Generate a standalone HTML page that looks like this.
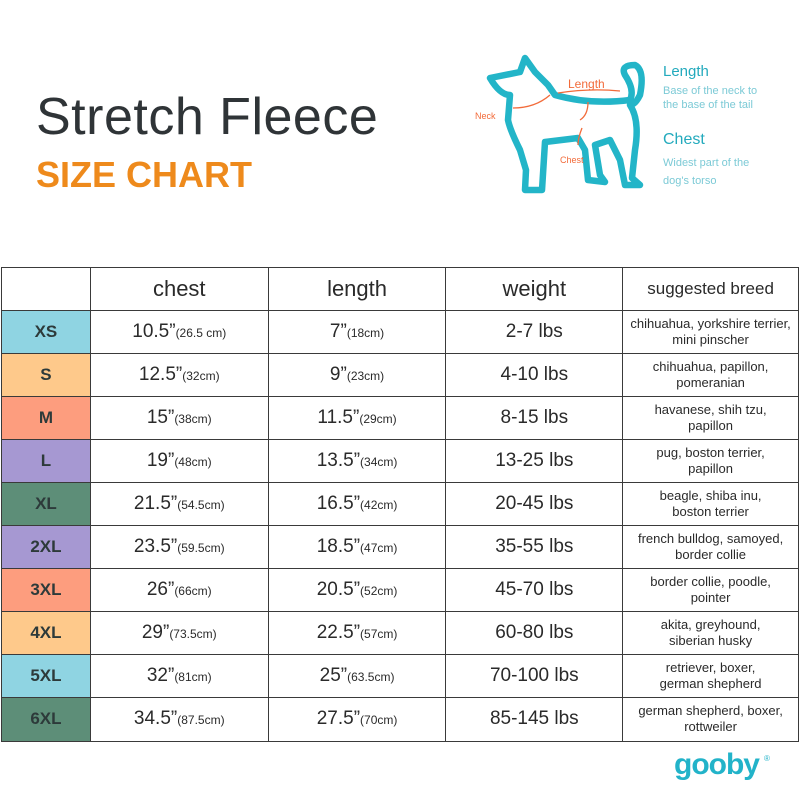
<!DOCTYPE html>
<html><head><style>
body{margin:0;width:800px;height:800px;background:#fff;font-family:"Liberation Sans",sans-serif;position:relative;overflow:hidden}
.t1{position:absolute;left:36px;top:87px;font-size:52px;color:#2f3437;letter-spacing:0.5px}
.t2{position:absolute;left:36px;top:154px;font-size:36px;font-weight:bold;color:#ee8a1c}
table{position:absolute;left:1px;top:267px;border-collapse:collapse;width:798px}
td{border:1.5px solid #3a3a3a;text-align:center;color:#2a2a2a;padding:0;height:42.1px}
tr.h td{font-size:22px;height:41.6px}
td.s{font-size:17px;font-weight:bold;color:#2d3a3a}
td.v{font-size:19px}
td.v small{font-size:12px}
td.b{font-size:13px;line-height:16px}
.lbl{position:absolute;font-size:14px}
</style></head><body>
<div class="t1">Stretch Fleece</div>
<div class="t2">SIZE CHART</div>
<svg style="position:absolute;left:470px;top:50px" width="200" height="160" viewBox="0 0 200 160">
<g fill="none" stroke="#23b5c8" stroke-width="6.5" stroke-linejoin="round" stroke-linecap="round">
<path d="M20 28 L50 22 L55 8 L65 22 L78 35 L85 45 Q120 55 160 50 Q165 40 155 25 Q150 15 165 15 Q175 20 170 45 Q165 55 160 55 Q170 70 165 100 L162 128 L170 135 L155 135 L150 110 L140 90 L125 95 L130 125 L135 132 L118 130 L115 100 L108 88 L75 92 L72 140 L55 140 L56 120 L50 100 Q40 80 38 70 L40 45 Q30 45 20 28 Z"/>
</g>
<g fill="none" stroke="#f26b3a" stroke-width="1.3">
<path d="M43 58 Q65 58 80 45"/><path d="M88 43 Q120 38 150 41"/><path d="M118 52 Q118 65 110 70"/><path d="M112 78 Q108 88 108 95"/>
</g>
<text x="98" y="38" font-size="12" fill="#f26b3a" font-family="Liberation Sans">Length</text>
<text x="5" y="69" font-size="9" fill="#f26b3a" font-family="Liberation Sans">Neck</text>
<text x="90" y="113" font-size="9" fill="#f26b3a" font-family="Liberation Sans">Chest</text>
</svg>
<div class="lbl" style="left:663px;top:63px;color:#23aabd;font-size:15px">Length</div>
<div class="lbl" style="left:663px;top:84px;color:#7ccad6;font-size:11px;line-height:14px">Base of the neck to<br>the base of the tail</div>
<div class="lbl" style="left:663px;top:131px;color:#23aabd;font-size:16px">Chest</div>
<div class="lbl" style="left:663px;top:154px;color:#7ccad6;font-size:11px;line-height:18px">Widest part of the<br>dog's torso</div>
<table>
<colgroup><col style="width:89px"><col style="width:178px"><col style="width:178px"><col style="width:177px"><col style="width:176px"></colgroup>
<tr class="h"><td></td><td>chest</td><td>length</td><td>weight</td><td style="font-size:17px">suggested breed</td></tr>
<tr><td class="s" style="background:#8fd4e2">XS</td><td class="v">10.5”<small>(26.5 cm)</small></td><td class="v">7”<small>(18cm)</small></td><td class="v">2-7 lbs</td><td class="b">chihuahua, yorkshire terrier,<br>mini pinscher</td></tr>
<tr><td class="s" style="background:#fec98b">S</td><td class="v">12.5”<small>(32cm)</small></td><td class="v">9”<small>(23cm)</small></td><td class="v">4-10 lbs</td><td class="b">chihuahua, papillon,<br>pomeranian</td></tr>
<tr><td class="s" style="background:#fd9d7e">M</td><td class="v">15”<small>(38cm)</small></td><td class="v">11.5”<small>(29cm)</small></td><td class="v">8-15 lbs</td><td class="b">havanese, shih tzu,<br>papillon</td></tr>
<tr><td class="s" style="background:#a698d2">L</td><td class="v">19”<small>(48cm)</small></td><td class="v">13.5”<small>(34cm)</small></td><td class="v">13-25 lbs</td><td class="b">pug, boston terrier,<br>papillon</td></tr>
<tr><td class="s" style="background:#5d8e78">XL</td><td class="v">21.5”<small>(54.5cm)</small></td><td class="v">16.5”<small>(42cm)</small></td><td class="v">20-45 lbs</td><td class="b">beagle, shiba inu,<br>boston terrier</td></tr>
<tr><td class="s" style="background:#a698d2">2XL</td><td class="v">23.5”<small>(59.5cm)</small></td><td class="v">18.5”<small>(47cm)</small></td><td class="v">35-55 lbs</td><td class="b">french bulldog, samoyed,<br>border collie</td></tr>
<tr><td class="s" style="background:#fd9d7e">3XL</td><td class="v">26”<small>(66cm)</small></td><td class="v">20.5”<small>(52cm)</small></td><td class="v">45-70 lbs</td><td class="b">border collie, poodle,<br>pointer</td></tr>
<tr><td class="s" style="background:#fec98b">4XL</td><td class="v">29”<small>(73.5cm)</small></td><td class="v">22.5”<small>(57cm)</small></td><td class="v">60-80 lbs</td><td class="b">akita, greyhound,<br>siberian husky</td></tr>
<tr><td class="s" style="background:#8fd4e2">5XL</td><td class="v">32”<small>(81cm)</small></td><td class="v">25”<small>(63.5cm)</small></td><td class="v">70-100 lbs</td><td class="b">retriever, boxer,<br>german shepherd</td></tr>
<tr><td class="s" style="background:#5d8e78">6XL</td><td class="v">34.5”<small>(87.5cm)</small></td><td class="v">27.5”<small>(70cm)</small></td><td class="v">85-145 lbs</td><td class="b">german shepherd, boxer,<br>rottweiler</td></tr>
</table>
<div style="position:absolute;left:674px;top:748px;font-size:30px;font-weight:bold;color:#22b3c9;letter-spacing:-1px">gooby</div>
<div style="position:absolute;left:764px;top:754px;font-size:8px;color:#22b3c9">®</div>
</body></html>
